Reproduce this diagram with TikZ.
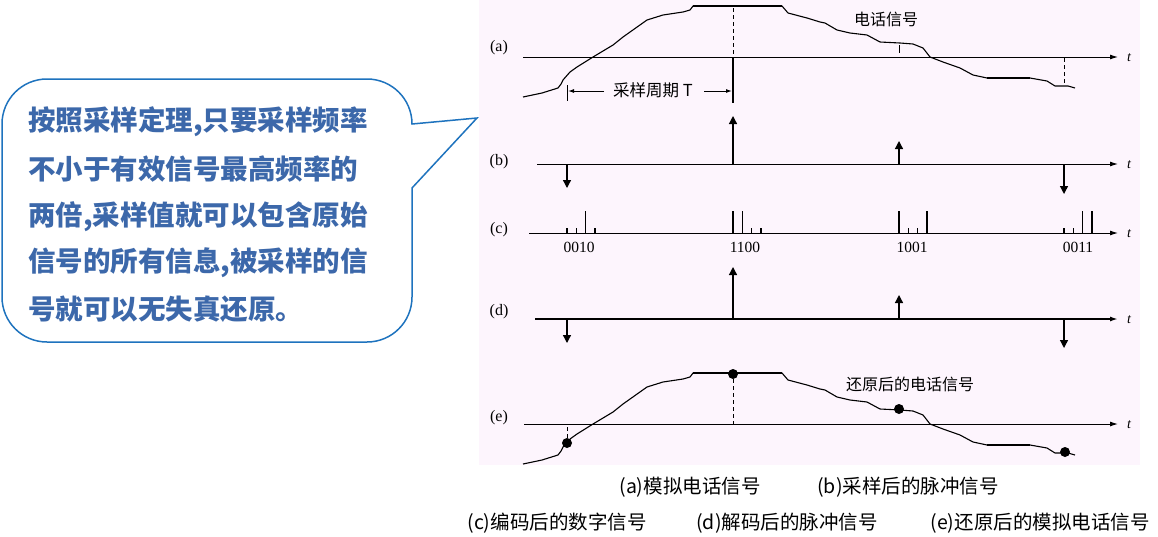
\documentclass[tikz,border=0pt]{standalone}
\usepackage{fontspec}
\setmainfont{Liberation Serif}
\newfontfamily\cjk{Noto Sans CJK SC}
\usetikzlibrary{arrows.meta}
\definecolor{panelbg}{RGB}{253,245,253}
\definecolor{callblue}{RGB}{30,115,190}
\definecolor{calltext}{RGB}{60,104,170}
\newcommand\sigcurve{%
  \draw[sig] (523,97) -- (542,93) -- (558,88) -- (561,84) -- (563,80) -- (570,72) -- (577,67) -- (593,57) -- (613,45) -- (623,37) -- (647,20) -- (663,15) -- (683,12) -- (690,10) -- (693,6) -- (782,6) -- (788,13) -- (807,18) -- (820,22) -- (825,23) -- (837,30) -- (850,33) -- (867,35) -- (880,42) -- (900,43) -- (913,44) -- (923,48) -- (930,57) -- (943,62) -- (960,68) -- (973,75) -- (987,78) -- (1030,78) -- (1047,81) -- (1055,86) -- (1068,86) -- (1075,88);
  \draw[sigthick] (693,6) -- (782,6);
  \draw[sigthick] (987,78) -- (1030,78);}
\begin{document}
\begin{tikzpicture}[x=1pt,y=-1pt,
  sig/.style={line width=1.1pt,line join=round},
  sigthick/.style={line width=2pt},
  axisline/.style={line width=1pt,-{Latex[length=8pt,width=5pt]}},
  imp/.style={line width=1.3pt,-{Triangle[length=8pt,width=8pt]}},
  bit/.style={line width=1.3pt},
  dsh/.style={line width=1pt,dash pattern=on 4pt off 3pt},
  lbl/.style={font=\fontsize{16}{16}\selectfont,inner sep=0pt},
  tl/.style={font=\fontsize{14}{14}\selectfont\itshape,inner sep=0pt},
  code/.style={font=\fontsize{15.5}{15.5}\selectfont,inner sep=0pt},
  cnote/.style={font=\cjk\fontsize{16}{16}\selectfont,inner sep=0pt},
  captxt/.style={font=\cjk\fontsize{19.5}{19.5}\selectfont,inner sep=0pt},
  calltxt/.style={font=\cjk\bfseries\fontsize{27.5}{27.5}\selectfont,text=calltext,inner sep=0pt,anchor=west},
  sdot/.style={circle,fill=black,inner sep=0pt,minimum size=10pt}]
\useasboundingbox (0,0) rectangle (1158,536);
\fill[white] (0,0) rectangle (1158,536);
\fill[panelbg] (479,0) rectangle (1140,465);

% callout
\draw[callblue,line width=1.5pt,fill=white,line join=miter]
  (412,124) -- (477,118) -- (412,188) -- (412,297)
  arc[start angle=0,end angle=-90,radius=45pt] -- (47,342)
  arc[start angle=-90,end angle=-180,radius=45pt] -- (2,124)
  arc[start angle=180,end angle=90,radius=45pt] -- (367,79)
  arc[start angle=90,end angle=0,radius=45pt] -- cycle;
\node[calltxt] (l1) at (28,122) {按照采样定理,只要采样频率};
\node[calltxt] (l2) at (28,169) {不小于有效信号最高频率的};
\node[calltxt] (l3) at (28,217) {两倍,采样值就可以包含原始};
\node[calltxt] (l4) at (28,263) {信号的所有信息,被采样的信};
\node[calltxt] (l5) at (28,309) {号就可以无失真还原。};

% ---------- (a)
\node[lbl] (la) at (499,48) {(a)};
\coordinate (a0) at (523,57); \coordinate (a1) at (1118,57);
\draw[axisline] (a0) -- (a1);
\node[tl] (ta) at (1129,58) {t};
\sigcurve
\coordinate (sa2) at (733,8); \coordinate (aa2) at (733,56);
\draw[dsh] (sa2) -- (aa2);
\coordinate (sa3) at (899,45); \coordinate (aa3) at (899,53);
\draw[line width=1pt] (sa3) -- (aa3);
\coordinate (aa4) at (1064,58); \coordinate (sa4) at (1064,85);
\draw[dsh] (aa4) -- (sa4);
\node[cnote] (na) at (886,19) {电话信号};
% sampling period
\coordinate (tl0) at (567,85); \coordinate (tl1) at (567,101);
\draw[line width=1pt] (tl0) -- (tl1);
\coordinate (tr0) at (733,58); \coordinate (tr1) at (733,103);
\draw[line width=2pt] (tr0) -- (tr1);
\node[cnote,font=\cjk\fontsize{16.5}{16.5}\selectfont] (tp) at (653,90) {采样周期 T};
\coordinate (ta0) at (604,91); \coordinate (ta1) at (568,91);
\coordinate (tb0) at (704,91); \coordinate (tb1) at (732,91);
\draw[line width=1pt,-{Latex[length=6pt,width=4pt]}] (ta0) -- (ta1);
\draw[line width=1pt,-{Latex[length=6pt,width=4pt]}] (tb0) -- (tb1);

% ---------- (b)
\node[lbl] (lb) at (499,162) {(b)};
\coordinate (b0) at (537,164); \coordinate (b1) at (1118,164);
\draw[axisline] (b0) -- (b1);
\node[tl] (tb) at (1129,165) {t};
\coordinate (bp1) at (567,164); \coordinate (bq1) at (567,188);
\coordinate (bp2) at (733,164); \coordinate (bq2) at (733,116);
\coordinate (bp3) at (899,164); \coordinate (bq3) at (899,141);
\coordinate (bp4) at (1064,164); \coordinate (bq4) at (1064,194);
\foreach \i in {1,...,4} \draw[imp] (bp\i) -- (bq\i);

% ---------- (c)
\node[lbl] (lc) at (499,230) {(c)};
\coordinate (c0) at (529,233); \coordinate (c1) at (1118,233);
\draw[axisline] (c0) -- (c1);
\node[tl] (tc) at (1129,234) {t};
\foreach \s/\bits in {567/{0,0,1,0},733/{1,1,0,0},899/{1,0,0,1},1064/{0,0,1,1}}{
  \foreach \b [count=\k from 0] in \bits {
    \pgfmathsetmacro\xx{\s+9.3*\k}
    \pgfmathsetmacro\yy{\b==1 ? 211 : 228}
    \coordinate (cb) at (\xx,233);
    \coordinate (ct) at (\xx,\yy);
    \draw[bit] (cb) -- (ct);
  }
}
\node[code] (c01) at (579,247) {0010};
\node[code] (c02) at (745,247) {1100};
\node[code] (c03) at (912,247) {1001};
\node[code] (c04) at (1078,247) {0011};

% ---------- (d)
\node[lbl] (ld) at (499,312) {(d)};
\coordinate (d0) at (535,319); \coordinate (d1) at (1118,319);
\draw[axisline,line width=2pt] (d0) -- (d1);
\node[tl] (td) at (1129,320) {t};
\coordinate (dp1) at (567,319); \coordinate (dq1) at (567,343);
\coordinate (dp2) at (733,319); \coordinate (dq2) at (733,267);
\coordinate (dp3) at (899,319); \coordinate (dq3) at (899,295);
\coordinate (dp4) at (1064,319); \coordinate (dq4) at (1064,348);
\foreach \i in {1,...,4} \draw[imp] (dp\i) -- (dq\i);

% ---------- (e)
\node[lbl] (le) at (499,418) {(e)};
\coordinate (e0) at (524,424); \coordinate (e1) at (1118,424);
\draw[axisline] (e0) -- (e1);
\node[tl] (te) at (1129,425) {t};
\begin{scope}[shift={(0,367)}]
  \sigcurve
\end{scope}
\node[sdot] (s1) at (567,443) {};
\node[sdot] (s2) at (733,374) {};
\node[sdot] (s3) at (899,409) {};
\node[sdot] (s4) at (1065,452) {};
\coordinate (ea1) at (567,425); \coordinate (ea2) at (733,424);
\draw[dsh] (s1) -- (ea1);
\draw[dsh] (s2) -- (ea2);
\node[cnote] (ne) at (910,384) {还原后的电话信号};

% captions
\node[captxt] (capa) at (690,487) {(a)模拟电话信号};
\node[captxt] (capb) at (908,487) {(b)采样后的脉冲信号};
\node[captxt] (capc) at (557,523) {(c)编码后的数字信号};
\node[captxt] (capd) at (787,523) {(d)解码后的脉冲信号};
\node[captxt] (cape) at (1040,523) {(e)还原后的模拟电话信号};
\end{tikzpicture}
\end{document}
